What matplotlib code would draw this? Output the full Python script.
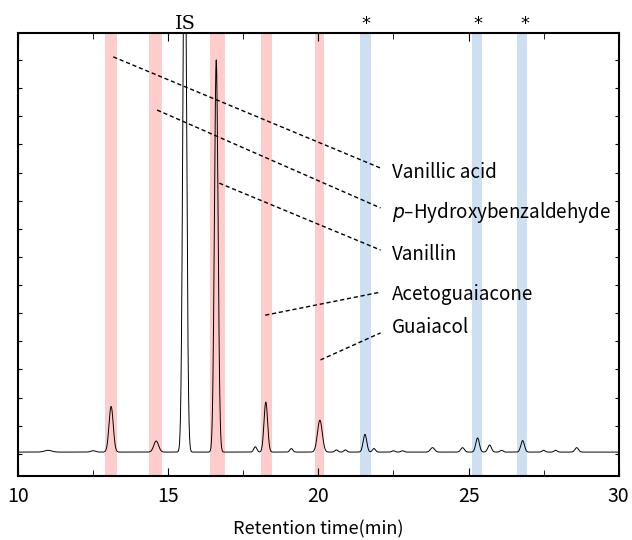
import matplotlib.pyplot as plt
import numpy as np

plt.rcParams['font.family'] = ['Noto Sans CJK JP', 'DejaVu Sans']

# peaks of the chromatogram (retention time, height above baseline, width)
peak_rt = [11.0, 12.5, 13.1, 14.6, 15.55, 16.6, 17.9, 18.25, 19.1, 20.05, 20.6, 20.9,
           21.55, 21.85, 22.5, 22.8, 23.8, 24.8, 25.3, 25.7, 26.1, 26.8, 27.5, 27.9, 28.6]
peak_h = [0.004, 0.003, 0.103, 0.025, 1.30, 0.885, 0.012, 0.113, 0.008, 0.072, 0.005, 0.005,
          0.040, 0.008, 0.003, 0.003, 0.010, 0.010, 0.032, 0.016, 0.004, 0.026, 0.004, 0.004, 0.010]
peak_w = [0.12, 0.08, 0.07, 0.08, 0.06, 0.06, 0.05, 0.06, 0.05, 0.08, 0.05, 0.05,
          0.06, 0.05, 0.05, 0.05, 0.07, 0.06, 0.06, 0.06, 0.05, 0.06, 0.05, 0.05, 0.06]
baseline = 0.054

pink_bands = [(12.9, 13.3), (14.35, 14.8), (16.4, 16.9), (18.1, 18.45), (19.9, 20.2)]
blue_bands = [(21.4, 21.75), (25.1, 25.45), (26.6, 26.95)]

compounds = ['Vanillic acid', r'$\it{p}$–Hydroxybenzaldehyde', 'Vanillin', 'Acetoguaiacone', 'Guaiacol']
line_start = [(13.17, 0.946), (14.63, 0.826), (16.7, 0.661), (18.23, 0.363), (20.07, 0.262)]
line_end = [(22.07, 0.695), (22.07, 0.605), (22.07, 0.51), (22.07, 0.415), (22.07, 0.323)]
label_y = [0.686, 0.594, 0.501, 0.409, 0.336]

star_rt = [21.57, 25.3, 26.87]
is_rt = 15.57

t = np.linspace(10, 30, 4001)
signal = np.full_like(t, baseline)
for c, h, w in zip(peak_rt, peak_h, peak_w):
    signal += h * np.exp(-0.5 * ((t - c) / w) ** 2)

fig = plt.figure(figsize=(6.32, 5.4), dpi=100)
ax = fig.add_axes([0.0285, 0.1185, 0.9505, 0.8205])

for a, b in pink_bands:
    ax.axvspan(a, b, color='#ffcccc', lw=0, zorder=0)
for a, b in blue_bands:
    ax.axvspan(a, b, color='#cce0f2', lw=0, zorder=0)

ax.plot(t, signal, color='black', lw=0.7, zorder=2)

for name, s, e, ly in zip(compounds, line_start, line_end, label_y):
    ax.plot([s[0], e[0]], [s[1], e[1]], color='black', lw=1, ls=(0, (3, 2)), zorder=3)
    ax.text(22.45, ly, name, fontsize=13.5, va='center', ha='left', zorder=3)

ax.text(is_rt, 1.0, 'IS', family='DejaVu Serif', fontsize=14, ha='center', va='bottom',
        transform=ax.get_xaxis_transform())
for s in star_rt:
    ax.text(s, 1.0, '*', family='DejaVu Sans', fontsize=13, ha='center', va='bottom',
            transform=ax.get_xaxis_transform())

ax.set_xlim(10, 30)
ax.set_ylim(0, 1)
ax.set_xticks([10, 15, 20, 25, 30])
ax.set_xticks(np.arange(12.5, 30, 5), minor=True)
ax.set_yticks(np.arange(0.05, 1.0, 0.0635))
ax.set_yticklabels([])
ax.tick_params(axis='x', direction='in', length=6, top=True, labelsize=14, pad=7)
ax.tick_params(axis='x', which='minor', direction='in', length=4, top=True)
ax.tick_params(axis='y', direction='in', length=3, right=True)
for sp in ax.spines.values():
    sp.set_linewidth(1.5)
ax.set_xlabel('Retention time(min)', fontsize=13, labelpad=10)

fig.savefig('out.png', dpi=100)
